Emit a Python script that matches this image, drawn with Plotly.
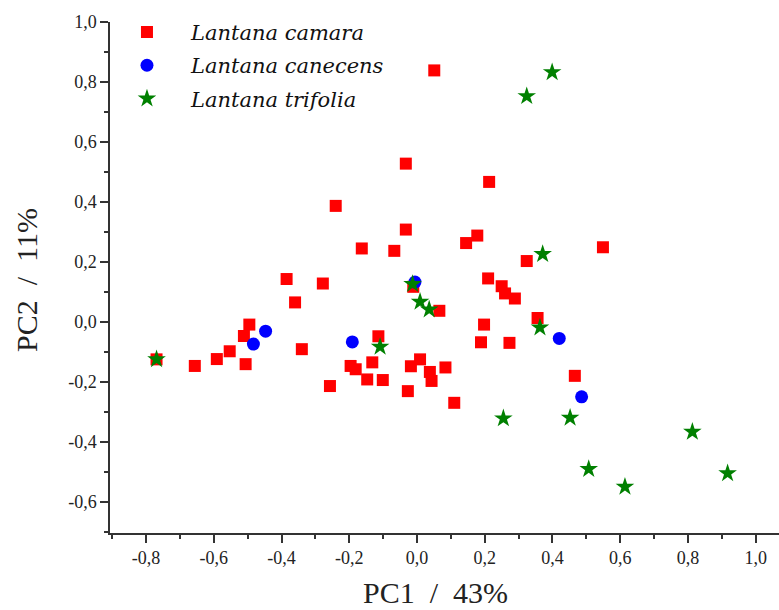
import plotly.graph_objects as go

camara_x = [0.051, -0.033, 0.213, -0.240, -0.033, -0.163, -0.067, 0.178, 0.145, 0.324,
            0.549, 0.210, 0.250, 0.260, 0.289, 0.066, -0.011, 0.356, 0.198, 0.189,
            0.273, -0.114, -0.196, -0.181, -0.132, -0.147, -0.101, -0.018, 0.009, 0.038,
            0.043, 0.084, -0.027, 0.110, 0.466, -0.257, -0.340, -0.360, -0.385, -0.278,
            -0.495, -0.511, -0.553, -0.591, -0.656, -0.506, -0.769]
camara_y = [0.839, 0.528, 0.467, 0.387, 0.308, 0.245, 0.237, 0.288, 0.263, 0.203,
            0.249, 0.145, 0.119, 0.095, 0.078, 0.037, 0.117, 0.013, -0.009, -0.068,
            -0.070, -0.048, -0.147, -0.158, -0.135, -0.192, -0.194, -0.148, -0.125, -0.167,
            -0.197, -0.152, -0.231, -0.270, -0.180, -0.214, -0.091, 0.065, 0.143, 0.128,
            -0.009, -0.047, -0.098, -0.124, -0.147, -0.141, -0.125]

canecens_x = [-0.447, -0.483, -0.191, -0.006, 0.420, 0.486]
canecens_y = [-0.031, -0.074, -0.067, 0.133, -0.055, -0.250]

trifolia_x = [0.399, 0.324, 0.371, -0.013, 0.009, 0.036, -0.109, 0.363, -0.769,
              0.255, 0.452, 0.813, 0.507, 0.614, 0.917]
trifolia_y = [0.833, 0.753, 0.226, 0.126, 0.067, 0.041, -0.083, -0.019, -0.125,
              -0.322, -0.320, -0.367, -0.491, -0.550, -0.505]

names = ["Lantana camara", "Lantana canecens", "Lantana trifolia"]
x_title = "PC1  /  43%"
y_title = "PC2  /  11%"

x_tickvals = [-0.8, -0.6, -0.4, -0.2, 0.0, 0.2, 0.4, 0.6, 0.8, 1.0]
x_ticktext = ["-0,8", "-0,6", "-0,4", "-0,2", "0,0", "0,2", "0,4", "0,6", "0,8", "1,0"]
y_tickvals = [-0.6, -0.4, -0.2, 0.0, 0.2, 0.4, 0.6, 0.8, 1.0]
y_ticktext = ["-0,6", "-0,4", "-0,2", "0,0", "0,2", "0,4", "0,6", "0,8", "1,0"]

fig = go.Figure()
fig.add_trace(go.Scatter(x=camara_x, y=camara_y, mode="markers", name=names[0],
                         legendgroup="a",
                         marker=dict(symbol="square", size=12, color="#FF0000")))
fig.add_trace(go.Scatter(x=canecens_x, y=canecens_y, mode="markers", name=names[1],
                         legendgroup="b",
                         marker=dict(symbol="circle", size=13, color="#0000FF")))
fig.add_trace(go.Scatter(x=trifolia_x, y=trifolia_y, mode="markers", name=names[2],
                         legendgroup="c",
                         marker=dict(symbol="star", size=14, color="#008000")))

axis_common = dict(
    showgrid=False, zeroline=False, showline=True, linecolor="#333333", linewidth=1.5,
    ticks="outside", ticklen=8, tickwidth=1.5, tickcolor="#333333",
    tickfont=dict(family="Liberation Serif", size=18, color="#222222"),
    minor=dict(ticks="outside", ticklen=4, tickwidth=1.5, tickcolor="#333333", dtick=0.1),
)

fig.update_layout(
    width=779, height=610,
    margin=dict(l=110, r=0, t=22, b=77),
    plot_bgcolor="white", paper_bgcolor="white",
    xaxis=dict(range=[-0.9064, 1.0688], tickmode="array", tickvals=x_tickvals,
               ticktext=x_ticktext, **axis_common),
    yaxis=dict(range=[-0.7043, 1.0005], tickmode="array", tickvals=y_tickvals,
               ticktext=y_ticktext, **axis_common),
    showlegend=True,
    legend=dict(x=-0.0105, y=1.02, xanchor="left", yanchor="top",
                font=dict(family="DejaVu Serif", size=21, color="#111111", style="italic"),
                itemwidth=78, tracegroupgap=3, bgcolor="rgba(0,0,0,0)"),
    annotations=[
        dict(text=x_title, xref="paper", yref="paper", x=0.486, y=-0.117,
             xanchor="center", yanchor="middle", showarrow=False,
             font=dict(family="Liberation Serif", size=30, color="#222222")),
        dict(text=y_title, xref="paper", yref="paper", x=-0.1256, y=0.495,
             xanchor="center", yanchor="middle", showarrow=False, textangle=-90,
             font=dict(family="Liberation Serif", size=30, color="#222222")),
    ],
)

fig.write_html("out.html")
